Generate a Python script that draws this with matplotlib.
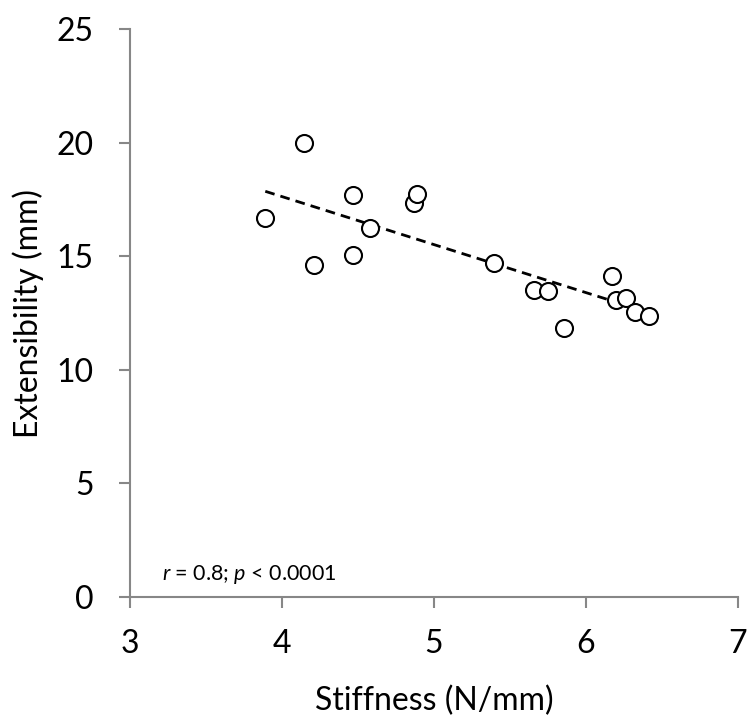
import numpy as np
import matplotlib
matplotlib.use("Agg")
import matplotlib.pyplot as plt

plt.rcParams['font.family'] = ['Lato', 'DejaVu Sans']
plt.rcParams['mathtext.fontset'] = 'custom'
plt.rcParams['mathtext.it'] = 'Lato:italic'
plt.rcParams['mathtext.rm'] = 'Lato'

stiffness = [3.89, 4.145, 4.21, 4.47, 4.47, 4.58, 4.87, 4.89, 5.395, 5.66, 5.75,
             5.855, 6.17, 6.20, 6.26, 6.32, 6.415]
extensibility = [16.67, 20.0, 14.6, 17.7, 15.04, 16.23, 17.32, 17.72, 14.69, 13.51,
                 13.46, 11.84, 14.15, 13.07, 13.16, 12.53, 12.37]
x_ticks = [3, 4, 5, 6, 7]
y_ticks = [0, 5, 10, 15, 20, 25]
annotation = "$r$ = 0.8; $p$ < 0.0001"

fig = plt.figure(figsize=(7.55, 7.28), dpi=100)
ax = fig.add_axes([130/755, 131/728, 608/755, 568/728])

x = np.array(stiffness)
y = np.array(extensibility)
ax.scatter(x, y, s=150, facecolors='white', edgecolors='black', linewidths=1.5, zorder=3)
slope, intercept = np.polyfit(x, y, 1)
xl = np.array([x.min(), x.max()])
ax.plot(xl, slope * xl + intercept, color='black', linestyle=(0, (3.5, 2.2)),
        linewidth=2, zorder=2)

ax.set_xlim(3, 7)
ax.set_ylim(0, 25)
ax.set_xticks(x_ticks)
ax.set_yticks(y_ticks)
for s in ['top', 'right']:
    ax.spines[s].set_visible(False)
for s in ['left', 'bottom']:
    ax.spines[s].set_color('#878787')
    ax.spines[s].set_linewidth(1.5)
ax.tick_params(axis='both', direction='out', length=8, width=1.5, color='#878787',
               labelsize=23)
ax.tick_params(axis='y', pad=18)
ax.tick_params(axis='x', pad=15)
ax.set_xlabel('Stiffness (N/mm)', fontsize=23, va='baseline')
ax.xaxis.set_label_coords(0.5, (597 - 710) / 568)
ax.set_ylabel('Extensibility (mm)', fontsize=23, va='baseline')
ax.yaxis.set_label_coords((38 - 130) / 608, 0.5)
ax.text(3.21, 0.75, annotation, fontsize=15.5, ha='left', va='baseline')

fig.savefig('out.png', dpi=100)
